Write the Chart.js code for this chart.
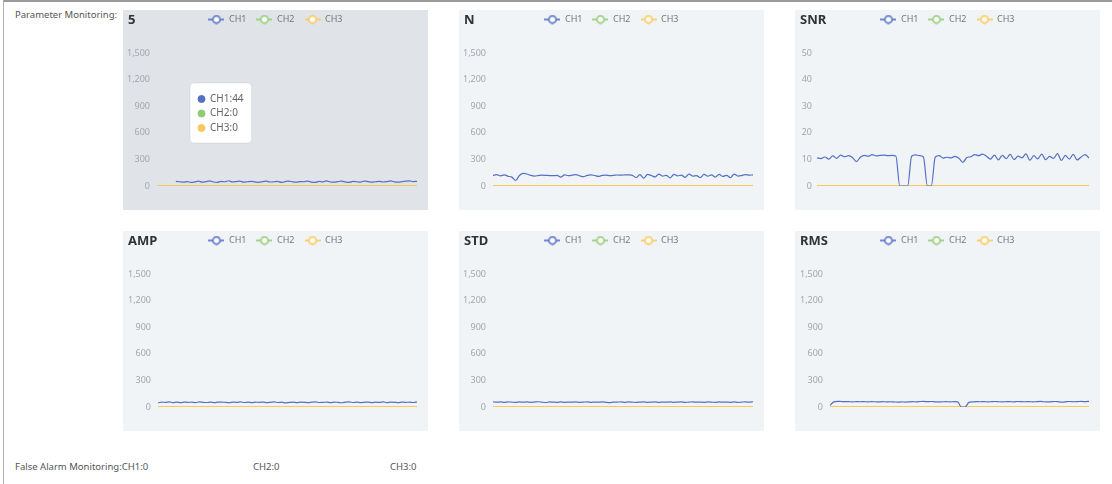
<!DOCTYPE html>
<html>
<head>
<meta charset="utf-8">
<script src="https://cdn.jsdelivr.net/npm/chart.js@4.4.1/dist/chart.umd.min.js"></script>
<style>
body{margin:0;background:#fff;font-family:"Noto Sans",sans-serif;width:1112px;height:484px;overflow:hidden;position:relative}
.frame{position:absolute;left:3px;top:0;width:1109px;height:484px;border-top:2px solid #9a9a9a;border-left:1px solid #b0b0b0;box-sizing:border-box}
.lbl{position:absolute;font-size:9.5px;color:#555;white-space:nowrap;line-height:12px}
.card{position:absolute;width:305px;height:200px;background:#f1f4f7}
.card canvas{position:absolute;left:0;top:-5px}
.card .ttl{position:absolute;left:5px;top:1px;font-size:13px;line-height:16px;font-weight:bold;color:#333;z-index:2}
</style>
</head>
<body>
<div class="frame"></div>
<div class="lbl" style="left:15px;top:9px">Parameter Monitoring:</div>
<div class="lbl" style="left:15px;top:461px">False Alarm Monitoring:CH1:0</div>
<div class="lbl" style="left:253px;top:461px">CH2:0</div>
<div class="lbl" style="left:390px;top:461px">CH3:0</div>
<div id="cards"></div>

<script>
// ------------------------------
// Data (CH1 per parameter, CH2 / CH3 flat at 0)
// ------------------------------

const channels = ["CH1", "CH2", "CH3"];

const s5CH1 = [null,null,null,null,null,52,48,44,50,40,
46,55,43,50,57,45,41,52,48,59,
46,50,55,43,48,52,46,41,50,54,
45,48,52,40,50,56,46,43,50,48,
55,44,41,52,47,57,45,43,50,54,
46,41,52,48,44,56,50,43,48,52,
45,50,57,46,43,48,55,58,50,53];

const nCH1 = [120,128,115,125,110,100,62,118,142,135,
120,112,118,122,120,118,116,120,100,125,
118,122,128,115,105,120,126,118,108,120,
122,118,120,124,122,126,125,120,96,128,
88,130,118,102,135,112,120,92,132,115,
122,98,135,112,118,95,130,110,125,100,
132,108,120,95,135,112,118,128,122,125];

const snrCH1 = [10.6,10.3,10.9,10.1,11.3,10.4,11.6,11.0,11.4,10.7,
9.2,10.8,11.5,11.2,11.8,11.3,11.5,11.6,11.4,11.5,
11.3,0,0,0,11.2,11.7,11.4,10.9,0,0,
10.9,11.4,10.5,10.8,10.6,11.1,10.4,8.9,10.7,11.0,
11.8,11.4,12.0,11.2,10.1,11.6,9.8,11.5,10.3,11.9,
9.9,11.2,10.6,12.1,9.7,11.4,10.2,12.0,9.9,11.1,
10.4,12.2,9.6,11.5,10.1,11.9,9.8,10.9,11.8,10.5];

const ampCH1 = [48,55,52,57,50,54,49,56,52,55,
50,57,53,51,55,49,54,56,52,50,
55,53,57,51,54,50,55,52,56,49,
53,57,51,54,46,52,56,50,55,53,
49,54,57,51,53,55,50,56,52,48,
54,57,51,55,50,53,56,49,54,52,
57,50,55,53,49,56,52,55,51,58];

const stdCH1 = [58,54,57,53,58,55,52,57,54,58,
53,56,59,54,51,57,55,53,58,52,
56,54,57,53,55,58,52,56,54,57,
53,50,56,55,58,53,57,54,52,56,
58,53,55,57,52,56,54,58,53,56,
57,52,55,58,54,56,53,57,55,52,
58,54,56,53,57,52,55,58,54,59];

const rmsCH1 = [18,58,64,62,60,61,58,60,59,61,
58,60,59,57,60,58,59,57,55,57,
56,58,60,58,62,63,60,62,58,57,
59,60,58,60,57,0,0,52,58,60,
59,61,58,60,62,59,58,61,60,58,
62,60,59,61,58,60,63,59,57,60,
62,58,56,60,62,59,61,63,60,64];

const zeroLine = [0,0,0,0,0,0,0,0,0,0,
0,0,0,0,0,0,0,0,0,0,
0,0,0,0,0,0,0,0,0,0,
0,0,0,0,0,0,0,0,0,0,
0,0,0,0,0,0,0,0,0,0,
0,0,0,0,0,0,0,0,0,0,
0,0,0,0,0,0,0,0,0,0];

const sampleLabels = snrCH1.map((_, i) => "#" + (i + 1));

const bigTicks = [0, 1500, 300];
const snrTicks = [0, 50, 10];

const panels = [
  { name: "5",   ch1: s5CH1,  ticks: bigTicks, tip: 7 },
  { name: "N",   ch1: nCH1,   ticks: bigTicks },
  { name: "SNR", ch1: snrCH1, ticks: snrTicks },
  { name: "AMP", ch1: ampCH1, ticks: bigTicks },
  { name: "STD", ch1: stdCH1, ticks: bigTicks },
  { name: "RMS", ch1: rmsCH1, ticks: bigTicks }
];

// ------------------------------
// Layout / style
// ------------------------------

const colors = ["#5470c6", "#91cc75", "#fac858"];
const drawOrder = [0, 2, 1];   // CH3 sits on top of CH2
const cardPos = [[123, 10], [459, 10], [795, 10], [123, 231], [459, 231], [795, 231]];
const axisWidth = [31, 31, 19, 32, 31, 32];
const tickGap = [7, 7, 5, 7, 7, 7];

function legendIcon(color) {
  const c = document.createElement("canvas");
  c.width = 16; c.height = 10;
  const g = c.getContext("2d");
  g.strokeStyle = color;
  g.lineWidth = 1.6;
  g.beginPath(); g.moveTo(0, 5); g.lineTo(16, 5); g.stroke();
  g.beginPath(); g.arc(8, 5, 3.6, 0, Math.PI * 2);
  g.fillStyle = "#fff"; g.fill(); g.stroke();
  return c;
}

// taller legend box (plot starts lower) and legend nudged to the card centre
const legendSpace = {
  id: "legendSpace",
  beforeUpdate(chart) {
    const lg = chart.legend;
    if (lg && !lg._patched) {
      const fit = lg.fit;
      const draw = lg.draw;
      lg.fit = function () { fit.call(this); this.height = 48; };
      lg.draw = function () {
        this.ctx.save();
        this.ctx.translate(4, 0);
        draw.call(this);
        this.ctx.restore();
      };
      lg._patched = true;
    }
  }
};

Chart.Tooltip.positioners.fixedBox = function () {
  return { x: 71, y: 78 };
};

const holder = document.getElementById("cards");

panels.forEach((p, k) => {

  const card = document.createElement("div");
  card.className = "card";
  card.style.left = cardPos[k][0] + "px";
  card.style.top = cardPos[k][1] + "px";
  if (k === 0) card.style.background = "#e0e4e8";

  const ttl = document.createElement("div");
  ttl.className = "ttl";
  ttl.textContent = p.name;
  card.appendChild(ttl);

  const cv = document.createElement("canvas");
  cv.width = 305; cv.height = 205;
  card.appendChild(cv);
  holder.appendChild(card);

  const series = [p.ch1, zeroLine, zeroLine];

  const chart = new Chart(cv, {
    type: "line",
    data: {
      labels: sampleLabels,
      datasets: channels.map((ch, i) => ({
        label: ch,
        data: series[i],
        order: drawOrder[i],
        borderColor: colors[i],
        backgroundColor: colors[i],
        borderWidth: i === 0 ? 1.2 : 2,
        pointRadius: 0,
        pointHoverRadius: 0,
        pointStyle: legendIcon(colors[i]),
        cubicInterpolationMode: "monotone",
        spanGaps: false
      }))
    },
    options: {
      responsive: false,
      animation: false,
      locale: "en-US",
      events: [],
      layout: { padding: { top: 0, left: 3, right: 11, bottom: 24 } },
      scales: {
        x: { display: false },
        y: {
          min: p.ticks[0],
          max: p.ticks[1],
          grid: { display: false, drawTicks: false },
          border: { display: false },
          afterFit: (axis) => { axis.width = axisWidth[k]; },
          ticks: {
            stepSize: p.ticks[2],
            padding: tickGap[k],
            color: "#a3a7ad",
            font: { family: "Noto Sans", size: 9 }
          }
        }
      },
      plugins: {
        legend: {
          position: "top",
          labels: {
            usePointStyle: true,
            pointStyleWidth: 16,
            padding: 10,
            color: "#777",
            font: { family: "Noto Sans", size: 9 },
            sort: (a, b) => a.datasetIndex - b.datasetIndex
          }
        },
        tooltip: {
          enabled: p.tip !== undefined,
          animation: false,
          position: "fixedBox",
          xAlign: "left",
          yAlign: "top",
          caretSize: 0,
          caretPadding: 0,
          cornerRadius: 4,
          backgroundColor: "#fff",
          borderColor: "rgba(0,0,0,0.07)",
          borderWidth: 1,
          bodyColor: "#666",
          bodyFont: { family: "Noto Sans", size: 10 },
          bodySpacing: 2.5,
          padding: { top: 10, bottom: 9, left: 8, right: 8 },
          usePointStyle: true,
          boxWidth: 7,
          boxHeight: 7,
          boxPadding: 3,
          itemSort: (a, b) => a.datasetIndex - b.datasetIndex,
          callbacks: {
            title: () => "",
            label: (c) => c.dataset.label + ":" + c.parsed.y,
            labelPointStyle: () => ({ pointStyle: "circle", rotation: 0 }),
            labelColor: (c) => ({ borderColor: colors[c.datasetIndex], backgroundColor: colors[c.datasetIndex] })
          }
        }
      }
    },
    plugins: [legendSpace]
  });

  if (p.tip !== undefined) {
    chart.tooltip.setActiveElements(
      channels.map((_, i) => ({ datasetIndex: i, index: p.tip })),
      { x: 0, y: 0 }
    );
    chart.draw();
  }

});
</script>
</body>
</html>
